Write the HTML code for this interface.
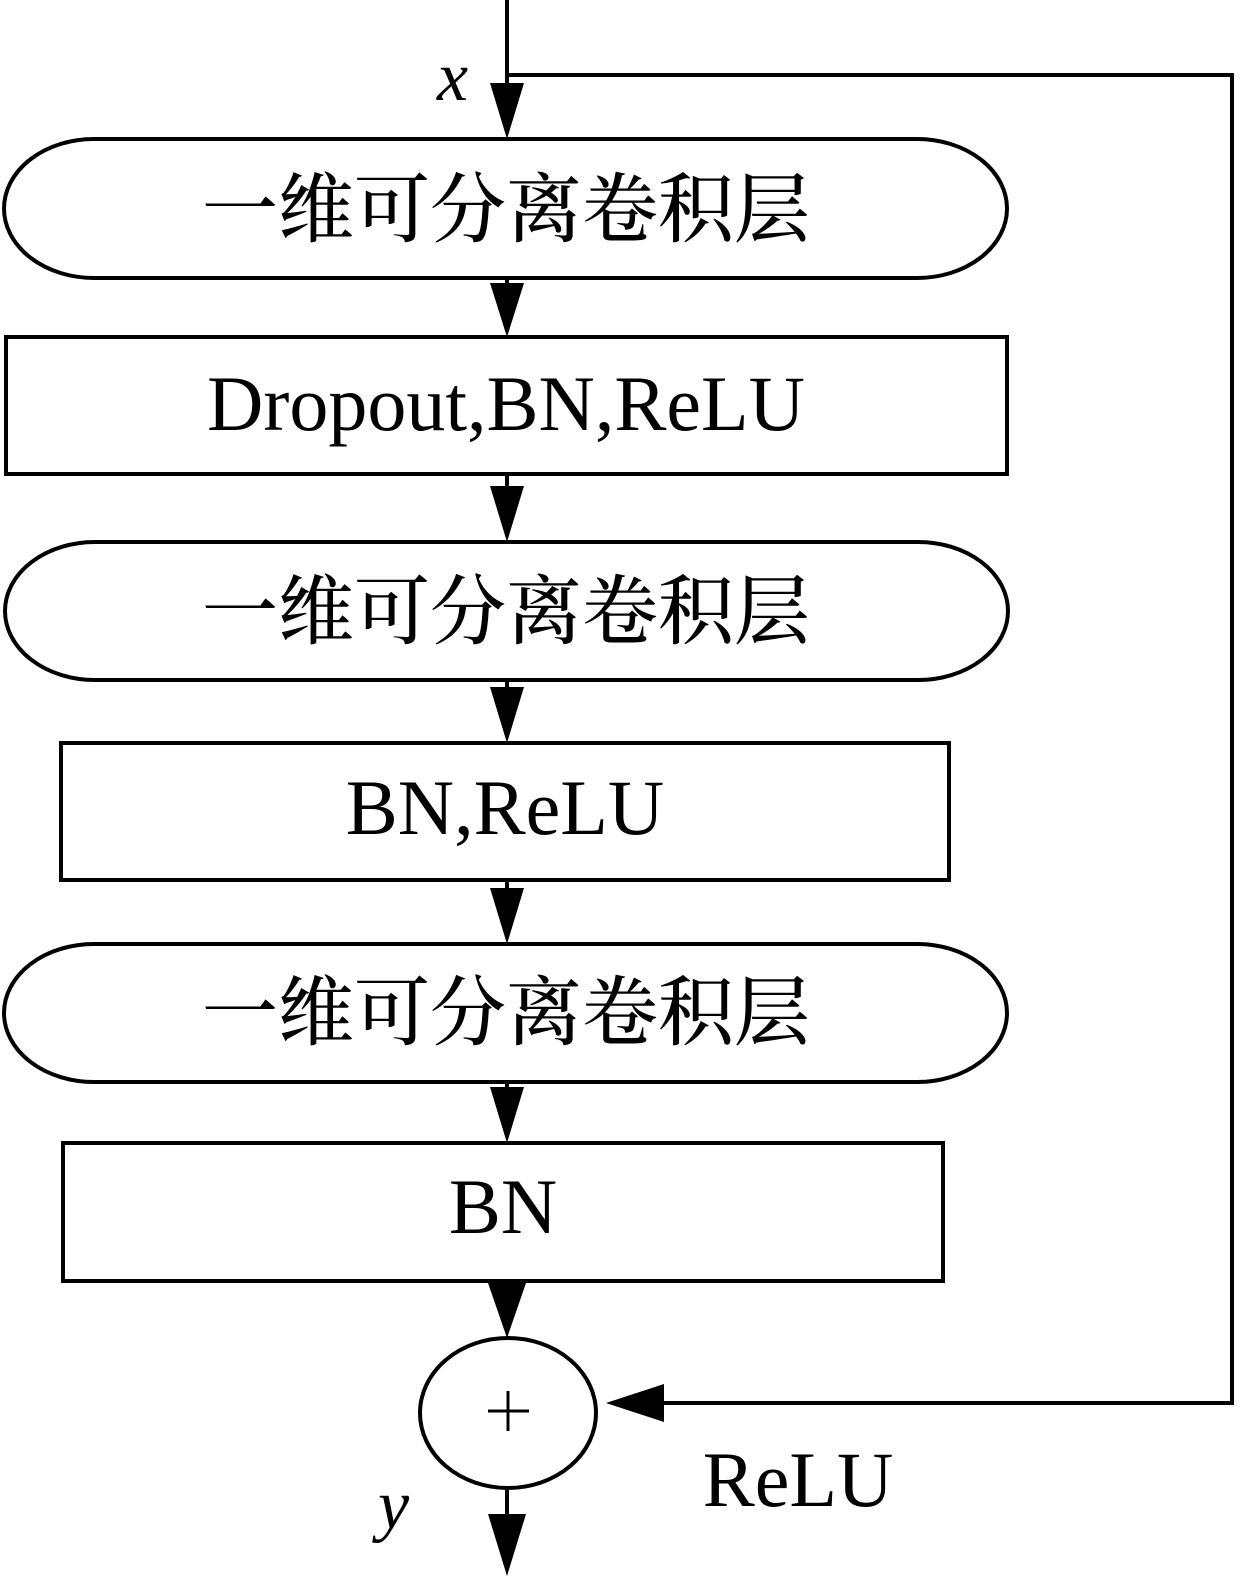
<!DOCTYPE html>
<html><head><meta charset="utf-8"><style>body{margin:0;background:#fff}</style></head><body>
<svg width="1244" height="1578" viewBox="0 0 1244 1578" xmlns="http://www.w3.org/2000/svg">
<g fill="none" stroke="#000" stroke-width="4">
<path d="M507 0V90"/>
<path d="M507 75H1232V1403H660"/>
<path d="M94 139H917A90 69.5 0 0 1 917 278H94A90 69.5 0 0 1 94 139Z"/>
<rect x="6" y="337" width="1001" height="137"/>
<path d="M95 542H918A90 69 0 0 1 918 680H95A90 69 0 0 1 95 542Z"/>
<rect x="61" y="743" width="888" height="137"/>
<path d="M94 944H917A90 69 0 0 1 917 1082H94A90 69 0 0 1 94 944Z"/>
<rect x="63" y="1143" width="880" height="138"/>
<ellipse cx="508" cy="1413" rx="88" ry="75"/>
<path d="M507 278V300M507 474V490M507 680V695M507 880V895M507 1082V1095M507 1281V1290M507 1488V1515"/>
</g>
<path d="M488 1411H529M508 1391V1431" stroke="#000" stroke-width="3"/>
<g fill="#000">
<polygon points="490,83 524,83 507,139"/>
<polygon points="490,283 524,283 507,337"/>
<polygon points="490,486 524,486 507,542"/>
<polygon points="490,687 524,687 507,743"/>
<polygon points="490,888 524,888 507,944"/>
<polygon points="490,1087 524,1087 507,1143"/>
<polygon points="488,1283 526,1283 507,1338"/>
<polygon points="488,1514 526,1514 507,1576"/>
<polygon points="606,1403 664,1384 664,1422"/>
</g>
<g font-family="'Noto Serif CJK SC','Liberation Serif',serif" font-size="76" font-weight="500" text-anchor="middle">
<text x="506" y="236">一维可分离卷积层</text>
<text x="506" y="638">一维可分离卷积层</text>
<text x="506" y="1039">一维可分离卷积层</text>
</g>
<g font-family="'Liberation Serif',serif" font-size="78" text-anchor="middle">
<text x="506" y="430">Dropout,BN,ReLU</text>
<text x="505" y="834">BN,ReLU</text>
<text x="503" y="1233">BN</text>
<text x="798" y="1506">ReLU</text>
</g>
<g font-family="'Liberation Serif',serif" font-size="70" font-style="italic">
<text x="437" y="100">x</text>
<text x="378" y="1528">y</text>
</g>
</svg>
</body></html>
